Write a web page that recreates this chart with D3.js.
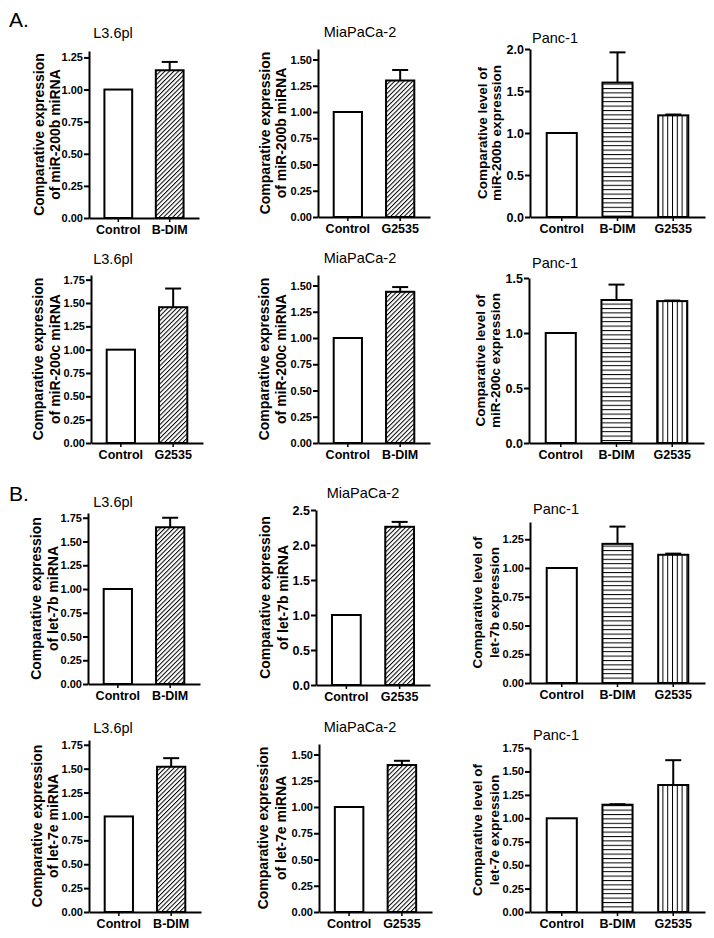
<!DOCTYPE html>
<html><head><meta charset="utf-8">
<script src="https://cdn.jsdelivr.net/npm/d3@7"></script>
<style>
body{margin:0;background:#fff}
svg{display:block}
text{font-family:"Liberation Sans",Arial,sans-serif;fill:#000}
</style>
</head><body>
<svg id="c" width="714" height="938"></svg>
<script>
// ---------- DATA ----------
const panelTitles = ["L3.6pl","MiaPaCa-2","Panc-1","L3.6pl","MiaPaCa-2","Panc-1","L3.6pl","MiaPaCa-2","Panc-1","L3.6pl","MiaPaCa-2","Panc-1"];
const yLabelLine1 = ["Comparative expression","Comparative expression","Comparative level of",
                     "Comparative expression","Comparative expression","Comparative level of",
                     "Comparative expression","Comparative expression","Comparative level of",
                     "Comparative expression","Comparative expression","Comparative level of"];
const yLabelLine2 = ["of miR-200b miRNA","of miR-200b miRNA","miR-200b expression",
                     "of miR-200c miRNA","of miR-200c miRNA","miR-200c expression",
                     "of let-7b miRNA","of let-7b miRNA","let-7b expression",
                     "of let-7e miRNA","of let-7e miRNA","let-7e expression"];
const categories = [
  ["Control","B-DIM"],["Control","G2535"],["Control","B-DIM","G2535"],
  ["Control","G2535"],["Control","B-DIM"],["Control","B-DIM","G2535"],
  ["Control","B-DIM"],["Control","G2535"],["Control","B-DIM","G2535"],
  ["Control","B-DIM"],["Control","G2535"],["Control","B-DIM","G2535"]
];
const values = [
  [1.00,1.15],[1.00,1.30],[1.00,1.60,1.21],
  [1.00,1.455],[1.00,1.44],[1.00,1.30,1.29],
  [1.00,1.65],[1.00,2.26],[1.00,1.21,1.115],
  [1.00,1.52],[1.00,1.40],[1.00,1.145,1.355]
];
const errors = [
  [0,0.065],[0,0.10],[0,0.36,0.01],
  [0,0.20],[0,0.045],[0,0.14,0.005],
  [0,0.10],[0,0.07],[0,0.15,0.01],
  [0,0.09],[0,0.04],[0,0.005,0.265]
];
const yMax = [1.3,1.6,2.0, 1.8,1.6,1.5, 1.8,2.5,1.4, 1.8,1.6,1.75];
const yTicks = [
  [0,0.25,0.5,0.75,1.0,1.25],[0,0.25,0.5,0.75,1.0,1.25,1.5],[0,0.5,1.0,1.5,2.0],
  [0,0.25,0.5,0.75,1.0,1.25,1.5,1.75],[0,0.25,0.5,0.75,1.0,1.25,1.5],[0,0.5,1.0,1.5],
  [0,0.25,0.5,0.75,1.0,1.25,1.5,1.75],[0,0.5,1.0,1.5,2.0,2.5],[0,0.25,0.5,0.75,1.0,1.25],
  [0,0.25,0.5,0.75,1.0,1.25,1.5,1.75],[0,0.25,0.5,0.75,1.0,1.25,1.5],[0,0.25,0.5,0.75,1.0,1.25,1.5,1.75]
];
const tickDecimals = [2,2,1, 2,2,1, 2,1,2, 2,2,2];
const sectionLabels = ["A.","B."];

// ---------- LAYOUT ----------
// l1/l2 = baseline x of the two rotated y-label lines
const boxes = [
  {x0:89,x1:199,top:51,bottom:218, tx:113,ty:38,anchor:"middle", l1:44,l2:60},
  {x0:318,x1:430,top:49,bottom:217, tx:360,ty:37,anchor:"middle", l1:270,l2:286},
  {x0:530,x1:705,top:49,bottom:217, tx:532,ty:43,anchor:"start", l1:487,l2:501},
  {x0:91,x1:203,top:275,bottom:443, tx:113,ty:264,anchor:"middle", l1:43,l2:60},
  {x0:318,x1:430,top:275,bottom:443, tx:360,ty:263,anchor:"middle", l1:269,l2:286},
  {x0:529,x1:704,top:278,bottom:443, tx:532,ty:268,anchor:"start", l1:485,l2:500},
  {x0:88,x1:200,top:513,bottom:684, tx:113,ty:507,anchor:"middle", l1:41,l2:58},
  {x0:316,x1:430,top:510,bottom:685, tx:363,ty:498,anchor:"middle", l1:270,l2:288},
  {x0:530,x1:705,top:522,bottom:683, tx:533,ty:514,anchor:"start", l1:482,l2:499},
  {x0:89,x1:201,top:740,bottom:912, tx:113,ty:733,anchor:"middle", l1:42,l2:58},
  {x0:319,x1:432,top:744,bottom:912, tx:360,ty:732,anchor:"middle", l1:268,l2:286},
  {x0:530,x1:705,top:748,bottom:912, tx:533,ty:740,anchor:"start", l1:482,l2:499}
];
const sectionPos = [{x:9,y:27},{x:9,y:501}];

// ---------- DRAW ----------
const svg = d3.select("#c");
const defs = svg.append("defs");
const pDiag = defs.append("pattern").attr("id","diag").attr("patternUnits","userSpaceOnUse")
  .attr("width",3.2).attr("height",3.2).attr("patternTransform","rotate(45)");
pDiag.append("rect").attr("width",3.2).attr("height",3.2).attr("fill","#fff");
pDiag.append("line").attr("x1",0.5).attr("y1",0).attr("x2",0.5).attr("y2",3.2).attr("stroke","#000").attr("stroke-width",1);
const pH = defs.append("pattern").attr("id","hor").attr("patternUnits","userSpaceOnUse")
  .attr("width",10).attr("height",4.4);
pH.append("rect").attr("width",10).attr("height",4.4).attr("fill","#fff");
pH.append("line").attr("x1",0).attr("y1",0.5).attr("x2",10).attr("y2",0.5).attr("stroke","#000").attr("stroke-width",1);
const pV = defs.append("pattern").attr("id","ver").attr("patternUnits","userSpaceOnUse")
  .attr("width",4.8).attr("height",10);
pV.append("rect").attr("width",4.8).attr("height",10).attr("fill","#fff");
pV.append("line").attr("x1",0.5).attr("y1",0).attr("x2",0.5).attr("y2",10).attr("stroke","#000").attr("stroke-width",1);

function fillFor(cat, n){
  if(cat==="Control") return "#fff";
  if(n===2) return "url(#diag)";
  return cat==="B-DIM" ? "url(#hor)" : "url(#ver)";
}

sectionLabels.forEach((s,i)=>{
  svg.append("text").attr("x",sectionPos[i].x).attr("y",sectionPos[i].y)
    .attr("font-size",21).text(s);
});

boxes.forEach((b,i)=>{
  const g = svg.append("g");
  const cats = categories[i];
  const x = d3.scaleBand().domain(cats).range([b.x0,b.x1]).paddingInner(0.46).paddingOuter(0.3);
  const y = d3.scaleLinear().domain([0,yMax[i]]).range([b.bottom,b.top]);
  const fmt = d3.format("." + tickDecimals[i] + "f");

  // bars
  g.selectAll("rect.bar").data(cats).join("rect").attr("class","bar")
    .attr("x",d=>x(d)).attr("width",x.bandwidth())
    .attr("y",(d,j)=>y(values[i][j])).attr("height",(d,j)=>b.bottom - y(values[i][j]))
    .attr("fill",d=>fillFor(d,cats.length)).attr("stroke","#000").attr("stroke-width",2);

  // error bars
  cats.forEach((d,j)=>{
    if(errors[i][j] <= 0) return;
    const cx = x(d) + x.bandwidth()/2;
    const y1 = y(values[i][j]), y2 = y(values[i][j] + errors[i][j]);
    g.append("line").attr("x1",cx).attr("x2",cx).attr("y1",y1).attr("y2",y2)
      .attr("stroke","#000").attr("stroke-width",2);
    g.append("line").attr("x1",cx - 8).attr("x2",cx + 8).attr("y1",y2).attr("y2",y2)
      .attr("stroke","#000").attr("stroke-width",2);
  });

  // y axis
  const ya = g.append("g").attr("transform",`translate(${b.x0},0)`)
    .call(d3.axisLeft(y).tickValues(yTicks[i]).tickFormat(fmt).tickSize(5).tickSizeOuter(0));
  ya.select(".domain").attr("stroke-width",2);
  ya.selectAll(".tick line").attr("stroke-width",2);
  ya.selectAll(".tick text").attr("font-size",tickDecimals[i]===1 ? 12.5 : 11)
    .attr("font-weight","bold")
    .attr("font-family","Liberation Sans, Arial, sans-serif").attr("x",-6);

  // x axis
  const xa = g.append("g").attr("transform",`translate(0,${b.bottom})`)
    .call(d3.axisBottom(x).tickSize(4).tickSizeOuter(0));
  xa.select(".domain").attr("stroke-width",2);
  xa.selectAll(".tick line").attr("stroke-width",1.5);
  xa.selectAll(".tick text").attr("font-size",12.5).attr("font-weight","bold")
    .attr("font-family","Liberation Sans, Arial, sans-serif").attr("y",7);

  // title
  g.append("text").attr("x",b.tx).attr("y",b.ty).attr("text-anchor",b.anchor)
    .attr("font-size",14.5).text(panelTitles[i]);

  // y label
  const cy = (b.top + b.bottom)/2;
  const fs = cats.length===3 ? 13.5 : 14;
  [[yLabelLine1[i],b.l1],[yLabelLine2[i],b.l2]].forEach(([t,lx])=>{
    g.append("text").attr("transform",`translate(${lx},${cy}) rotate(-90)`)
      .attr("text-anchor","middle")
      .attr("font-size",fs).attr("font-weight","bold").text(t);
  });
});
</script>
</body></html>
